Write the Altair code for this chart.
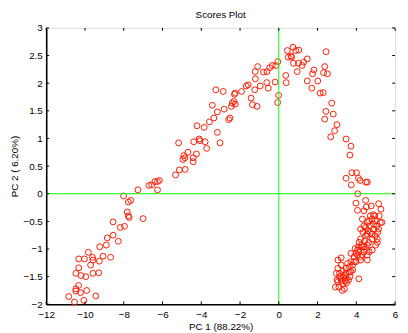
import altair as alt
import pandas as pd

# ---- data ----
pc1 = [
    -10.84, -10.54, -10.06, -10.47, -10.47, -10.33, -10.23, -9.91, -9.44, -10.47,
    -10.32, -10.32, -10.20, -10.03, -9.96, -9.83, -9.71, -9.61, -9.59, -9.59,
    -9.29, -9.26, -9.24, -9.07, -8.90, -8.85, -8.68, -8.55, -8.55, -8.28,
    -8.18, -7.96, -8.01, -7.82, -7.76, -7.64, -7.76, -7.72, -7.00, -7.27,
    -6.70, -6.56, -6.39, -6.26, -6.16, -6.26,
    -5.33, -5.13, -4.83, -5.17, -4.95, -4.90, -4.85, -4.69, -4.42, -4.42,
    -4.25, -4.39, -4.22, -4.11, -4.07, -3.80, -3.72, -3.85, -3.58, -3.43,
    -3.35, -3.17, -3.17, -3.03, -2.82, -3.25, -2.87, -2.59, -2.52, -2.45,
    -2.40, -2.32, -2.25, -2.29, -2.25, -1.92, -1.68, -1.58, -1.43, -1.36,
    -1.12, -1.24, -1.22, -1.21, -1.09, -0.96, -0.79, -0.62, -0.61, -0.54,
    -0.47, -0.34, -0.19, -0.15, -0.05, -0.06, -0.01, 0.36, 0.38, 0.44,
    0.49, 0.63, 0.73, 0.66, 0.76, 0.88, 1.03, 0.95, 1.01, 1.20,
    1.28, 1.47, 1.47, 1.70, 1.74, 1.81, 2.01, 2.13, 2.29, 2.31,
    2.37, 2.44, 2.51, 2.43, 2.37, 2.73, 2.81, 2.68, 2.88, 3.00,
    3.47, 3.72, 3.67, 3.47, 3.74, 3.77, 4.01, 4.11, 4.19, 4.48,
    4.57, 4.07,
    3.98, 4.48, 5.15, 5.27, 4.06, 4.39, 4.52, 4.77, 4.88,
    3.05, 3.22, 3.05, 3.13, 2.92, 3.10, 3.30, 3.27, 3.39, 3.22,
    3.47, 3.67, 3.64, 3.81, 3.47, 3.30, 3.72, 4.13, 3.98, 3.72,
    3.94, 4.06, 4.14, 4.22, 4.31, 4.40, 4.57, 4.57, 4.66, 4.82,
    4.99, 5.08, 4.22, 4.34, 4.48, 4.64, 4.81, 4.98, 5.24, 5.32,
    5.15, 4.89, 4.72, 4.56, 4.98, 4.81, 5.11, 4.44, 4.64, 4.14,
    4.31, 4.48, 4.06, 3.89, 3.81, 3.55, 3.47, 3.22, 3.13, 3.33,
    3.05, 3.50,
    4.31, 4.22, 4.39, 4.56, 4.72, 4.89, 5.06, 5.18, 4.95, 4.72,
    4.60, 4.81, 4.48, 5.08, 4.27, 4.11, 4.39, 4.56, 4.22, 3.98,
    3.89, 3.64, 3.72, 3.39, 3.22, 3.00, 2.97, 3.43, 3.60,
]
pc2 = [
    -1.86, -1.96, -1.93, -1.72, -1.76, -1.66, -1.79, -1.75, -1.85, -1.44,
    -1.34, -1.18, -1.48, -1.18, -1.50, -1.06, -1.29, -1.15, -1.20, -1.44,
    -1.43, -1.22, -0.96, -1.13, -0.93, -0.80, -1.15, -0.75, -0.51, -0.86,
    -0.61, -0.59, -0.04, -0.33, -0.15, -0.12, -0.40, -0.43, -0.45, 0.07,
    0.15, 0.16, 0.22, 0.22, 0.24, 0.07,
    0.34, 0.43, 0.44, 0.92, 0.62, 0.69, 0.65, 0.75, 0.58, 0.65,
    0.72, 0.94, 1.23, 0.99, 0.96, 0.94, 0.82, 1.20, 1.30, 1.60,
    1.37, 1.48, 1.11, 0.92, 1.53, 1.88, 1.85, 1.34, 1.37, 1.58,
    1.64, 1.67, 1.62, 1.80, 1.82, 1.85, 1.95, 1.97, 1.73, 1.61,
    1.58, 1.88, 2.21, 2.08, 2.30, 1.95, 2.20, 2.01, 2.21, 1.91,
    2.28, 2.32, 2.02, 2.32, 2.39, 1.65, 1.78, 2.14, 2.01, 2.59,
    2.47, 2.49, 2.65, 2.47, 2.36, 2.59, 2.60, 2.21, 2.36, 2.32,
    2.38, 2.44, 2.04, 1.91, 2.17, 2.24, 2.04, 1.82, 1.83, 2.19,
    2.30, 2.57, 2.17, 1.49, 1.35, 1.64, 1.44, 1.03, 1.14, 1.25,
    0.99, 0.86, 0.70, 0.28, 0.16, 0.38, 0.38, 0.28, 0.24, 0.21,
    0.21, 0.00,
    -0.17, -0.12, -0.18, -0.28, -0.30, -0.31, -0.24, -0.22, -0.38,
    -1.20, -1.16, -1.35, -1.50, -1.69, -1.69, -1.64, -1.75, -1.72, -1.58,
    -1.53, -1.50, -1.42, -1.38, -1.35, -1.40, -1.23, -1.54, -1.23, -1.08,
    -0.99, -1.02, -1.05, -1.20, -1.11, -0.96, -1.20, -0.93, -1.05, -1.02,
    -0.93, -0.82, -0.82, -0.70, -0.61, -0.49, -0.46, -0.49, -0.52, -0.52,
    -0.64, -0.64, -0.70, -0.73, -0.76, -0.82, -0.70, -0.85, -0.88, -0.88,
    -0.96, -0.99, -1.11, -1.14, -1.29, -1.26, -1.44, -1.29, -1.44, -1.50,
    -1.59, -1.61,
    -0.46, -0.64, -0.58, -0.52, -0.58, -0.55, -0.58, -0.40, -0.40, -0.40,
    -0.67, -0.73, -0.76, -0.88, -0.93, -0.96, -1.05, -1.11, -1.14, -1.08,
    -1.23, -1.32, -1.41, -1.47, -1.53, -1.56, -1.44, -1.58, -1.56,
]
x_ticks = [-12, -10, -8, -6, -4, -2, 0, 2, 4, 6]
y_ticks = [-2, -1.5, -1, -0.5, 0, 0.5, 1, 1.5, 2, 2.5, 3]
zero_x = [0]
zero_y = [0]

W, H = 356, 282
FONT = "Liberation Sans"
TICK = 3

df = pd.DataFrame({"pc1": pc1, "pc2": pc2})
xt = pd.DataFrame({"pc1": x_ticks})
yt = pd.DataFrame({"pc2": y_ticks})

xs = alt.Scale(domain=[-12, 6], nice=False, zero=False)
ys = alt.Scale(domain=[-2, 3], nice=False, zero=False)

xaxis = alt.Axis(
    values=x_ticks, title="PC 1 (88.22%)", grid=False, ticks=False,
    domain=True, domainColor="black", domainWidth=1.6,
    labelOverlap=False, labelFlush=False,
    labelPadding=5, labelFontSize=10, labelColor="black", labelFont=FONT,
    titleFontSize=10, titleFontWeight="normal", titleColor="black", titleFont=FONT,
    titlePadding=3, format="d")
yaxis = alt.Axis(
    values=y_ticks, title="PC 2 ( 6.20%)", grid=False, ticks=False,
    domain=True, domainColor="black", domainWidth=1.6,
    labelOverlap=False, labelFlush=False,
    labelPadding=4, labelFontSize=10, labelColor="black", labelFont=FONT,
    titleFontSize=10, titleFontWeight="normal", titleColor="black", titleFont=FONT,
    titlePadding=4, format="~g")

X = alt.X("pc1:Q", scale=xs, axis=xaxis)
Y = alt.Y("pc2:Q", scale=ys, axis=yaxis)

points = alt.Chart(df).mark_point(
    shape="circle", filled=False, size=36, strokeWidth=1, color="#ff1a00", opacity=1
).encode(x=X, y=Y)

hline = alt.Chart(pd.DataFrame({"pc2": zero_y})).mark_rule(
    color="#00ff00", strokeWidth=1).encode(y=Y)
vline = alt.Chart(pd.DataFrame({"pc1": zero_x})).mark_rule(
    color="#00ff00", strokeWidth=1).encode(x=X)

tick_top = alt.Chart(xt).mark_rule(color="black", strokeWidth=1).encode(
    x=X, y=alt.value(0), y2=alt.value(TICK))
tick_bot = alt.Chart(xt).mark_rule(color="black", strokeWidth=1).encode(
    x=X, y=alt.value(H - TICK), y2=alt.value(H))
tick_left = alt.Chart(yt).mark_rule(color="black", strokeWidth=1).encode(
    y=Y, x=alt.value(0), x2=alt.value(TICK))
tick_right = alt.Chart(yt).mark_rule(color="black", strokeWidth=1).encode(
    y=Y, x=alt.value(W - TICK), x2=alt.value(W))

chart = alt.layer(points, hline, vline, tick_top, tick_bot, tick_left, tick_right).properties(
    width=W, height=H,
    title=alt.TitleParams("Scores Plot", fontSize=10, fontWeight="normal", font=FONT,
                          color="black", offset=3, anchor="middle"),
    autosize=alt.AutoSizeParams(type="none"),
    padding={"left": 39, "top": 17, "right": 5, "bottom": 26},
).configure_view(stroke="black", strokeWidth=1).configure(background="white")

chart.save("out.html", embed_options={"renderer": "svg", "actions": False})
